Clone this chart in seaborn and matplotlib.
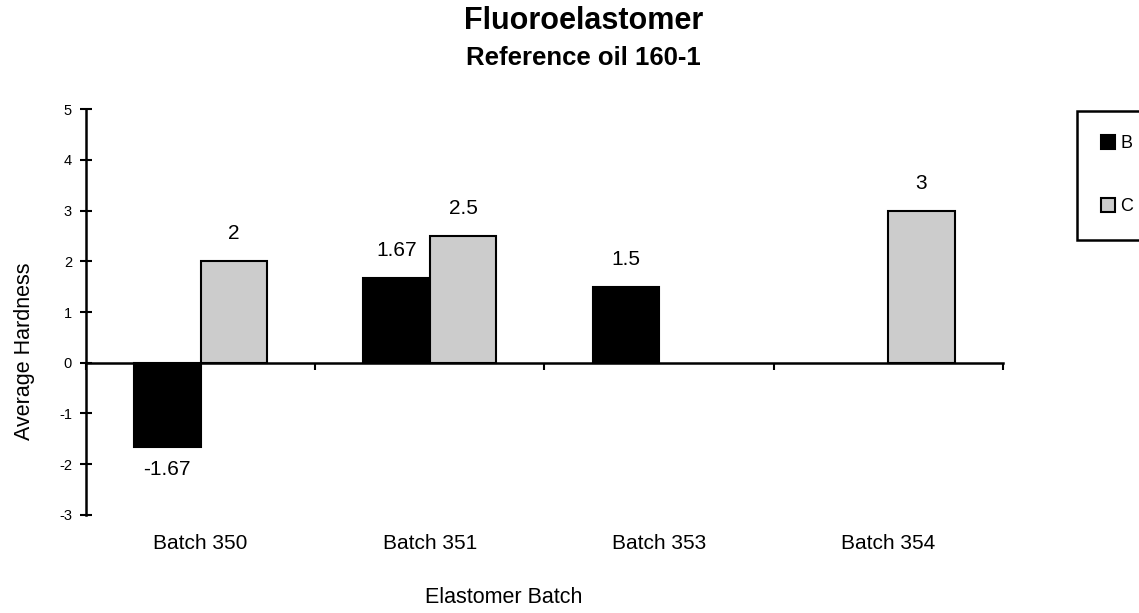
import numpy as np
import pandas as pd
import matplotlib
matplotlib.use("Agg")
import matplotlib.pyplot as plt
import seaborn as sns

# Data
batches = ["Batch 350", "Batch 351", "Batch 353", "Batch 354"]
series_b = [-1.67, 1.67, 1.5, np.nan]
series_c = [2.0, 2.5, np.nan, 3.0]
y_ticks = [-3, -2, -1, 0, 1, 2, 3, 4, 5]

df = pd.DataFrame({
    "batch": batches * 2,
    "series": ["B"] * len(batches) + ["C"] * len(batches),
    "hardness": series_b + series_c,
}).dropna()

sns.set_theme(style="white", rc={"text.color": "black", "axes.labelcolor": "black",
                                 "xtick.color": "black", "ytick.color": "black",
                                 "axes.unicode_minus": False})
plt.rcParams["font.family"] = ["Liberation Sans", "DejaVu Sans"]

fig = plt.figure(figsize=(11.39, 6.13), dpi=100)
ax = fig.add_axes([0.0755, 0.160, 0.805, 0.662])

sns.barplot(data=df, x="batch", y="hardness", hue="series", hue_order=["B", "C"],
            order=batches, palette={"B": "black", "C": "#cccccc"}, saturation=1,
            width=0.58, edgecolor="black", linewidth=1.5, errorbar=None, ax=ax)

# value labels
for cont in ax.containers:
    for bar in cont:
        h = bar.get_height()
        if np.isnan(h):
            continue
        x = bar.get_x() + bar.get_width() / 2
        if h >= 0:
            ax.annotate(f"{h:g}", (x, h), xytext=(0, 13), textcoords="offset points",
                        ha="center", va="bottom", fontsize=15, color="black")
        else:
            ax.annotate(f"{h:g}", (x, h), xytext=(0, -9), textcoords="offset points",
                        ha="center", va="top", fontsize=15, color="black")

# axes styling
ax.set_ylim(-3, 5)
ax.set_xlim(-0.5, len(batches) - 0.5)
ax.set_yticks(y_ticks)
ax.tick_params(axis="y", direction="inout", length=8.6, width=1.5, labelsize=10.5, pad=5.8,
               left=True, colors="black")
ax.spines["top"].set_visible(False)
ax.spines["right"].set_visible(False)
for side in ["left", "bottom"]:
    ax.spines[side].set_linewidth(1.8)
    ax.spines[side].set_color("black")
ax.spines["bottom"].set_position(("data", 0))

# category boundary ticks on the zero line
ax.set_xticks(np.arange(-0.5, len(batches), 1.0))
ax.set_xticklabels([])
ax.tick_params(axis="x", direction="out", length=5, width=1.5, bottom=True, colors="black")
ax.set_xlabel("")
ax.set_ylabel("Average Hardness", fontsize=15.5, color="black")
ax.yaxis.set_label_coords(-0.056, 0.404)

# category labels at the bottom of the plot area
sec = ax.secondary_xaxis(0)
sec.set_xticks(range(len(batches)), labels=batches)
sec.tick_params(length=0, pad=13.7, labelsize=15, labelcolor="black")
for s in sec.spines.values():
    s.set_visible(False)

# legend
leg = ax.get_legend()
handles = leg.legend_handles
labels = [t.get_text() for t in leg.get_texts()]
leg.remove()
fl = fig.legend(handles, labels, loc="upper left", bbox_to_anchor=(0.9456, 0.819),
                frameon=True, fancybox=False, edgecolor="black", framealpha=1,
                fontsize=13, labelspacing=2.55, borderpad=1.35, borderaxespad=0,
                handlelength=0.75, handleheight=0.75, handletextpad=0.3)
fl.get_frame().set_linewidth(1.8)
for t in fl.get_texts():
    t.set_color("black")

fig.text(0.512, 0.966, "Fluoroelastomer", ha="center", va="center", fontsize=22,
         fontweight="bold", color="black")
fig.text(0.512, 0.905, "Reference oil 160-1", ha="center", va="center", fontsize=18.5,
         fontweight="bold", color="black")
fig.text(0.4425, 0.0245, "Elastomer Batch", ha="center", va="center", fontsize=15.5,
         color="black")

fig.savefig("out.png", dpi=100)
